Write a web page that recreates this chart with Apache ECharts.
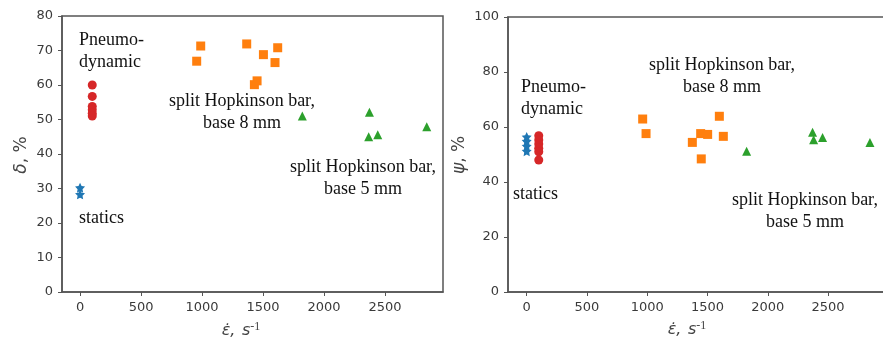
<!DOCTYPE html>
<html><head><meta charset="utf-8">
<script src="https://cdn.jsdelivr.net/npm/echarts@6/dist/echarts.min.js"></script>
<style>html,body{margin:0;padding:0;background:#fff}#c{width:883px;height:342px}</style>
</head><body><div id="c"></div>
<script>
// ---- data: left chart (delta, %) ----
const dStaticsX = [0, 0];
const dStaticsY = [30.2, 28.3];
const dPneumoX = [100, 100, 100, 100, 100, 100];
const dPneumoY = [60.0, 56.7, 53.8, 52.8, 51.8, 51.0];
const dShb8X = [956, 989, 1366, 1503, 1620, 1598, 1429, 1451];
const dShb8Y = [66.9, 71.3, 71.9, 68.8, 70.8, 66.5, 60.1, 61.2];
const dShb5X = [1822, 2372, 2366, 2440, 2842];
const dShb5Y = [51.0, 52.1, 45.0, 45.6, 47.9];
// ---- data: right chart (psi, %) ----
const pStaticsX = [0, 0, 0, 0];
const pStaticsY = [56.4, 54.8, 53.0, 51.2];
const pPneumoX = [100, 100, 100, 100, 100, 100];
const pPneumoY = [56.8, 55.3, 53.8, 52.3, 51.0, 48.0];
const pShb8X = [962, 990, 1374, 1443, 1501, 1448, 1598, 1631];
const pShb8Y = [62.9, 57.6, 54.4, 57.6, 57.3, 48.4, 63.9, 56.6];
const pShb5X = [1824, 2371, 2380, 2454, 2847];
const pShb5Y = [51.2, 58.1, 55.4, 56.2, 54.4];
// ---- ticks ----
const xTickValues = [0, 500, 1000, 1500, 2000, 2500];
const leftXRange = [-148, 2975];
const rightXRange = [-155, 3030];
const leftYMax = 80, leftYStep = 10;
const rightYMax = 100, rightYStep = 20;

const pair = (xs, ys) => xs.map((x, i) => [x, ys[i]]);
const COLORS = {statics: '#1f77b4', pneumo: '#d62728', shb8: '#ff7f0e', shb5: '#2ca02c'};
const star = 'path://M0,-10 L2.9,-4 L9.5,-3.1 L4.7,1.5 L5.9,8.1 L0,5 L-5.9,8.1 L-4.7,1.5 L-9.5,-3.1 L-2.9,-4 Z';

const axisCol = '#555';
const labelStyle = {color: '#3a3a3a', fontSize: 13, fontFamily: 'DejaVu Sans', margin: 9, formatter: v => String(v)};
function xAxis(gi, range) {
  return {
    type: 'value', gridIndex: gi, min: range[0], max: range[1],
    axisLine: {show: true, onZero: false, lineStyle: {color: axisCol, width: 1.5}},
    axisTick: {show: true, length: 4, lineStyle: {color: axisCol}, customValues: xTickValues},
    axisLabel: Object.assign({customValues: xTickValues}, labelStyle),
    splitLine: {show: false}
  };
}
function yAxis(gi, max, step) {
  return {
    type: 'value', gridIndex: gi, min: 0, max: max, interval: step,
    axisLine: {show: true, onZero: false, lineStyle: {color: axisCol, width: 1.5}},
    axisTick: {show: true, length: 4, lineStyle: {color: axisCol}},
    axisLabel: Object.assign({}, labelStyle),
    splitLine: {show: false}
  };
}
function sc(name, gi, data, color, symbol, size) {
  return {name, type: 'scatter', xAxisIndex: gi, yAxisIndex: gi, data, symbol, symbolSize: size,
    itemStyle: {color: color, opacity: 1}, silent: true, animation: false};
}
const annFont = {fontFamily: 'Liberation Serif, Times New Roman, serif', fontSize: 18, fill: '#111', lineHeight: 22};
function ann(text, x, y, align) {
  return {type: 'text', x: x, y: y, style: Object.assign({text: text, align: align, verticalAlign: 'middle'}, annFont)};
}
function titleX(x, y) {
  return {type: 'text', x: x, y: y, style: {
    text: '{e|ε̇,}  {s|s}{p|-1}', align: 'center', verticalAlign: 'middle',
    rich: {
      e: {fontFamily: 'DejaVu Sans', fontStyle: 'italic', fontSize: 16, fill: '#444'},
      s: {fontFamily: 'DejaVu Sans', fontStyle: 'italic', fontSize: 16, fill: '#444'},
      p: {fontFamily: 'Liberation Serif', fontSize: 12, fill: '#444', verticalAlign: 'top', padding: [0, 0, 8, 0]}
    }}};
}
function titleY(sym, x, y) {
  return {type: 'text', x: x, y: y, rotation: Math.PI / 2, style: {
    text: '{g|' + sym + '}{n|, %}', align: 'center', verticalAlign: 'middle',
    rich: {
      g: {fontFamily: 'DejaVu Sans', fontStyle: 'italic', fontSize: 17, fill: '#444'},
      n: {fontFamily: 'DejaVu Sans', fontSize: 17, fill: '#444'}
    }}};
}

const chart = echarts.init(document.getElementById('c'), null, {renderer: 'canvas'});
chart.setOption({
  animation: false,
  backgroundColor: '#fff',
  grid: [
    {left: 62, top: 16, width: 381, height: 276, show: true, borderColor: axisCol, borderWidth: 1.5, outerBoundsMode: 'none'},
    {left: 508, top: 17, width: 384, height: 275, show: true, borderColor: axisCol, borderWidth: 1.5, outerBoundsMode: 'none'}
  ],
  xAxis: [xAxis(0, leftXRange), xAxis(1, rightXRange)],
  yAxis: [yAxis(0, leftYMax, leftYStep), yAxis(1, rightYMax, rightYStep)],
  series: [
    sc('statics', 0, pair(dStaticsX, dStaticsY), COLORS.statics, star, 10),
    sc('pneumo', 0, pair(dPneumoX, dPneumoY), COLORS.pneumo, 'circle', 9),
    sc('shb8', 0, pair(dShb8X, dShb8Y), COLORS.shb8, 'rect', 9),
    sc('shb5', 0, pair(dShb5X, dShb5Y), COLORS.shb5, 'triangle', 9),
    sc('statics', 1, pair(pStaticsX, pStaticsY), COLORS.statics, star, 10),
    sc('pneumo', 1, pair(pPneumoX, pPneumoY), COLORS.pneumo, 'circle', 9),
    sc('shb8', 1, pair(pShb8X, pShb8Y), COLORS.shb8, 'rect', 9),
    sc('shb5', 1, pair(pShb5X, pShb5Y), COLORS.shb5, 'triangle', 9)
  ],
  graphic: [
    ann('Pneumo-\ndynamic', 79, 51, 'left'),
    ann('split Hopkinson bar,\nbase 8 mm', 242, 112, 'center'),
    ann('split Hopkinson bar,\nbase 5 mm', 363, 178, 'center'),
    ann('statics', 79, 218, 'left'),
    ann('Pneumo-\ndynamic', 521, 98, 'left'),
    ann('split Hopkinson bar,\nbase 8 mm', 722, 76, 'center'),
    ann('split Hopkinson bar,\nbase 5 mm', 805, 211, 'center'),
    ann('statics', 513, 194, 'left'),
    titleX(241, 331),
    titleX(687, 330),
    titleY('δ', 22, 155),
    titleY('ψ', 460, 155)
  ]
});
</script></body></html>
